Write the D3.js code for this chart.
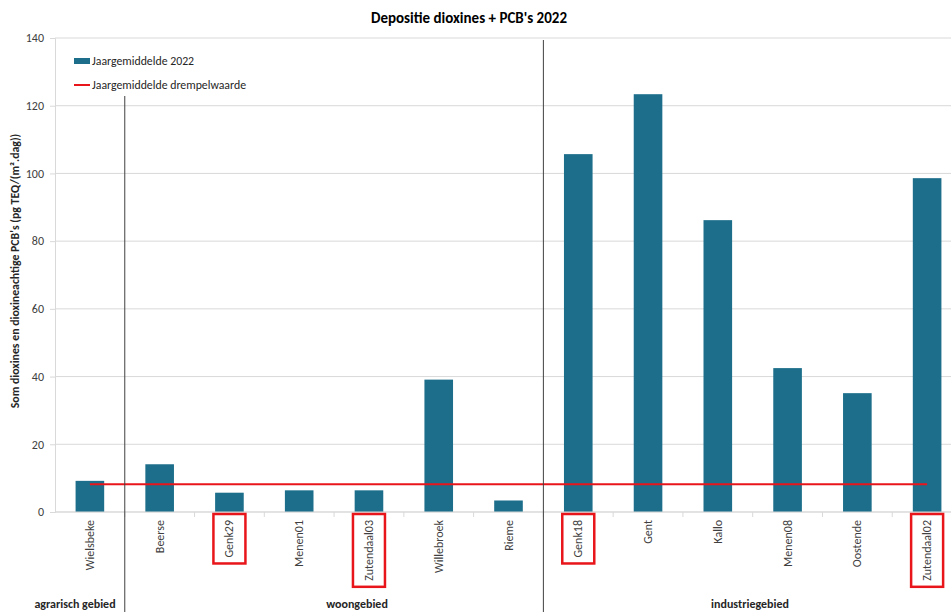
<!DOCTYPE html>
<html>
<head>
<meta charset="utf-8">
<script src="https://cdn.jsdelivr.net/npm/d3@7"></script>
<style>
  html, body { margin: 0; padding: 0; background: #fff; }
  svg { display: block; font-family: Carlito, "Liberation Sans Narrow", "DejaVu Sans Condensed", Arial, sans-serif; }
</style>
</head>
<body>
<svg id="chart" width="951" height="612"></svg>
<script>
// Meetposten en jaargemiddelden 2022
const stations = ["Wielsbeke", "Beerse", "Genk29", "Menen01", "Zutendaal03", "Willebroek", "Rieme",
                  "Genk18", "Gent", "Kallo", "Menen08", "Oostende", "Zutendaal02"];
const values = [9.2, 14.1, 5.7, 6.4, 6.4, 39.1, 3.4, 105.7, 123.4, 86.2, 42.5, 35.1, 98.6];
const threshold = 8.2;
const highlighted = ["Genk29", "Zutendaal03", "Genk18", "Zutendaal02"];
const groups = ["agrarisch gebied", "woongebied", "industriegebied"];
const yTicks = [0, 20, 40, 60, 80, 100, 120, 140];

(function () {
  const svg = d3.select("#chart");
  const plotLeft = 55, plotRight = 962, plotTop = 38, plotBottom = 512;
  const fontStack = "Carlito, 'Liberation Sans Narrow', 'DejaVu Sans Condensed', Arial, sans-serif";

  const x = d3.scaleBand().domain(stations).range([plotLeft, plotRight]).paddingInner(0).paddingOuter(0);
  const y = d3.scaleLinear().domain([0, 140]).range([plotBottom, plotTop]);

  // Gridlines
  svg.append("g").selectAll("line").data(yTicks).join("line")
    .attr("x1", plotLeft).attr("x2", plotRight)
    .attr("y1", d => y(d)).attr("y2", d => y(d))
    .attr("stroke", "#d9d9d9").attr("stroke-width", 1);

  // Y axis
  const yAxis = svg.append("g").attr("transform", `translate(${plotLeft},0)`)
    .call(d3.axisLeft(y).tickValues(yTicks).tickSize(5).tickPadding(6));
  yAxis.select(".domain").attr("stroke", "#d9d9d9");
  yAxis.selectAll(".tick line").attr("stroke", "#d9d9d9");
  yAxis.selectAll("text").attr("font-size", 12).attr("fill", "#404040").attr("font-family", fontStack);

  // Bars
  const barW = x.bandwidth() * 0.41;
  svg.append("g").selectAll("rect").data(stations).join("rect")
    .attr("x", d => x(d) + (x.bandwidth() - barW) / 2)
    .attr("width", barW)
    .attr("y", (d, i) => y(values[i]))
    .attr("height", (d, i) => y(0) - y(values[i]))
    .attr("fill", "#1c6e8b");

  // X axis baseline and ticks between categories
  svg.append("line").attr("x1", plotLeft).attr("x2", plotRight).attr("y1", plotBottom).attr("y2", plotBottom)
    .attr("stroke", "#d9d9d9");
  svg.append("g").selectAll("line").data(stations.slice(1)).join("line")
    .attr("x1", d => x(d)).attr("x2", d => x(d))
    .attr("y1", plotBottom).attr("y2", plotBottom + 5)
    .attr("stroke", "#d9d9d9");

  // Threshold line
  svg.append("line")
    .attr("x1", x(stations[0]) + x.bandwidth() / 2)
    .attr("x2", x(stations[stations.length - 1]) + x.bandwidth() / 2)
    .attr("y1", y(threshold)).attr("y2", y(threshold))
    .attr("stroke", "#e8161b").attr("stroke-width", 2);

  // Category labels (rotated)
  const labels = svg.append("g").selectAll("text").data(stations).join("text")
    .attr("transform", d => `translate(${x(d) + x.bandwidth() / 2 + 4},520) rotate(-90)`)
    .attr("text-anchor", "end")
    .attr("font-size", 12)
    .attr("fill", "#404040")
    .text(d => d);

  // Red boxes around highlighted stations
  labels.each(function (d) {
    if (!highlighted.includes(d)) return;
    const cx = x(d) + x.bandwidth() / 2;
    const len = this.getComputedTextLength();
    svg.append("rect")
      .attr("x", cx - 16).attr("y", 514)
      .attr("width", 32).attr("height", len + 12)
      .attr("fill", "none").attr("stroke", "#e8161b").attr("stroke-width", 2.5);
  });

  // Group separators
  svg.append("line").attr("x1", x("Beerse")).attr("x2", x("Beerse"))
    .attr("y1", 96).attr("y2", 612).attr("stroke", "#404040").attr("stroke-width", 1);
  svg.append("line").attr("x1", x("Genk18")).attr("x2", x("Genk18"))
    .attr("y1", plotTop + 2).attr("y2", 612).attr("stroke", "#404040").attr("stroke-width", 1);

  // Group labels
  const groupX = [75, 357, 750];
  svg.append("g").selectAll("text").data(groups).join("text")
    .attr("x", (d, i) => groupX[i]).attr("y", 608)
    .attr("text-anchor", "middle").attr("font-size", 12).attr("font-weight", "bold")
    .attr("fill", "#262626")
    .text(d => d);

  // Title
  svg.append("text").attr("x", 469).attr("y", 23).attr("text-anchor", "middle")
    .attr("font-size", 15).attr("font-weight", "bold").attr("fill", "#000")
    .text("Depositie dioxines + PCB's 2022");

  // Y axis title
  svg.append("text")
    .attr("transform", "translate(19,271) rotate(-90)")
    .attr("text-anchor", "middle").attr("font-size", 11.8).attr("font-weight", "bold")
    .attr("fill", "#262626")
    .text("Som dioxines en dioxineachtige PCB's (pg TEQ/(m².dag))");

  // Legend
  const legend = svg.append("g");
  legend.append("rect").attr("x", 74).attr("y", 58).attr("width", 16).attr("height", 6).attr("fill", "#1c6e8b");
  legend.append("text").attr("x", 92).attr("y", 65).attr("font-size", 11.8).attr("fill", "#262626")
    .text("Jaargemiddelde 2022");
  legend.append("line").attr("x1", 74).attr("x2", 90).attr("y1", 85).attr("y2", 85)
    .attr("stroke", "#e8161b").attr("stroke-width", 2);
  legend.append("text").attr("x", 92).attr("y", 89).attr("font-size", 11.8).attr("fill", "#262626")
    .text("Jaargemiddelde drempelwaarde");
})();
</script>
</body>
</html>
